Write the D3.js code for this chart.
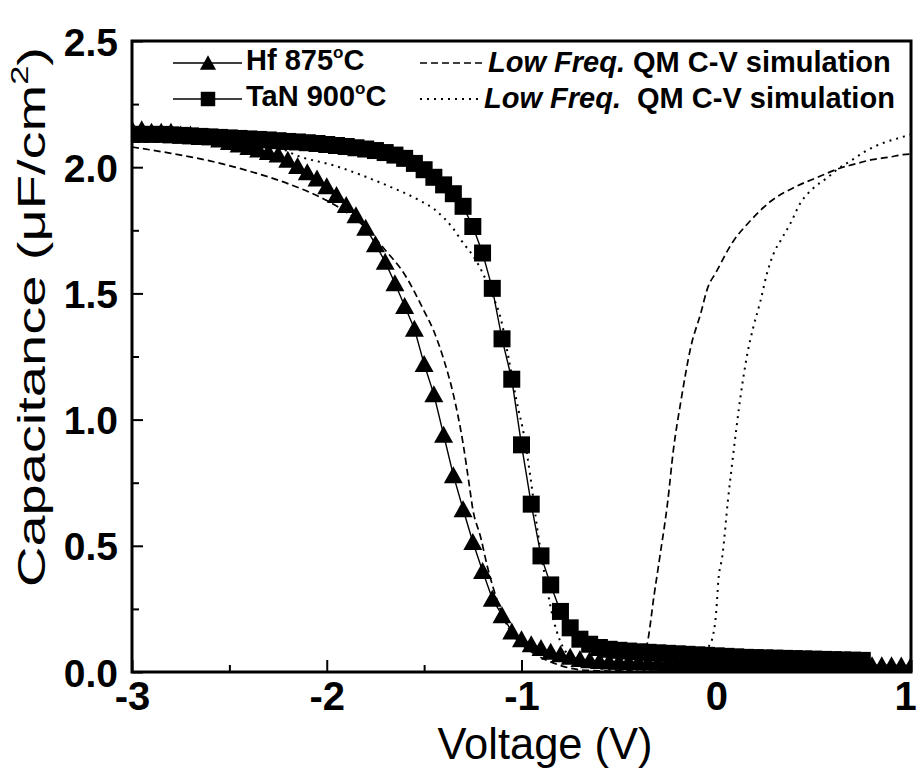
<!DOCTYPE html>
<html>
<head>
<meta charset="utf-8">
<script src="https://cdn.jsdelivr.net/npm/d3@7"></script>
<style>
  body { margin: 0; background: #fff; }
  svg { display: block; }
  text { font-family: "Liberation Sans", Arial, Helvetica, sans-serif; fill: #000; white-space: pre; }
</style>
</head>
<body>
<svg id="chart" width="916" height="782"></svg>
<script>
// Gate voltage of the measured sweeps (V)
const voltage = [
  -3.00, -2.95, -2.90, -2.85, -2.80, -2.75, -2.70, -2.65, -2.60, -2.55,
  -2.50, -2.45, -2.40, -2.35, -2.30, -2.25, -2.20, -2.15, -2.10, -2.05,
  -2.00, -1.95, -1.90, -1.85, -1.80, -1.75, -1.70, -1.65, -1.60, -1.55,
  -1.50, -1.45, -1.40, -1.35, -1.30, -1.25, -1.20, -1.15, -1.10, -1.05,
  -1.00, -0.95, -0.90, -0.85, -0.80, -0.75, -0.70, -0.65, -0.60, -0.55,
  -0.50, -0.45, -0.40, -0.35, -0.30, -0.25, -0.20, -0.15, -0.10, -0.05,
   0.00,  0.05,  0.10,  0.15,  0.20,  0.25,  0.30,  0.35,  0.40,  0.45,
   0.50,  0.55,  0.60,  0.65,  0.70,  0.75,  0.80,  0.85,  0.90,  0.95,
   1.00
];

// Measured capacitance, Hf gate annealed at 875 C (uF/cm^2)
const hfCap = [
  2.150, 2.150, 2.140, 2.140, 2.140, 2.130, 2.130, 2.120, 2.120, 2.110,
  2.100, 2.090, 2.080, 2.070, 2.060, 2.050, 2.030, 2.005, 1.980, 1.955,
  1.925, 1.890, 1.850, 1.810, 1.760, 1.695, 1.625, 1.540, 1.450, 1.360,
  1.220, 1.100, 0.940, 0.780, 0.645, 0.515, 0.400, 0.290, 0.225, 0.160,
  0.130, 0.110, 0.095, 0.080, 0.070, 0.060, 0.052, 0.047, 0.044, 0.042,
  0.041, 0.040, 0.039, 0.038, 0.037, 0.036, 0.036, 0.035, 0.035, 0.034,
  0.034, 0.033, 0.033, 0.032, 0.032, 0.031, 0.031, 0.030, 0.030, 0.030,
  0.029, 0.029, 0.029, 0.028, 0.028, 0.028, 0.027, 0.027, 0.027, 0.026,
  0.026
];

// Measured capacitance, TaN gate annealed at 900 C (sweep stops at 0.75 V)
const tanCap = [
  2.130, 2.130, 2.130, 2.130, 2.128, 2.126, 2.124, 2.122, 2.120, 2.118,
  2.116, 2.114, 2.112, 2.110, 2.108, 2.105, 2.102, 2.100, 2.097, 2.094,
  2.090, 2.086, 2.082, 2.077, 2.072, 2.066, 2.058, 2.048, 2.035, 2.015,
  1.990, 1.960, 1.930, 1.895, 1.845, 1.765, 1.660, 1.520, 1.320, 1.160,
  0.900, 0.665, 0.460, 0.345, 0.240, 0.175, 0.130, 0.110, 0.097, 0.090,
  0.086, 0.083, 0.080, 0.078, 0.076, 0.074, 0.072, 0.070, 0.068, 0.066,
  0.064, 0.062, 0.060, 0.058, 0.057, 0.056, 0.055, 0.054, 0.053, 0.052,
  0.051, 0.050, 0.049, 0.048, 0.047, 0.046
];

// Low-frequency quantum-mechanical C-V simulation matched to the Hf device
const hfSimV = [
  -3.00, -2.80, -2.60, -2.40, -2.20, -2.00, -1.90, -1.80, -1.70, -1.60,
  -1.50, -1.45, -1.40, -1.35, -1.30, -1.27, -1.25, -1.21, -1.175, -1.12,
  -1.07, -1.00, -0.94, -0.85, -0.75, -0.65, -0.55, -0.45, -0.40, -0.37,
  -0.35, -0.32, -0.29, -0.25, -0.22, -0.18, -0.13, -0.08, -0.045, 0.00,
   0.09, 0.16, 0.28, 0.40, 0.52, 0.65, 0.70, 0.80, 0.89, 0.96, 1.00
];
const hfSimC = [
  2.080, 2.055, 2.025, 1.985, 1.935, 1.868, 1.822, 1.760, 1.672, 1.575,
  1.430, 1.350, 1.240, 1.100, 0.905, 0.750, 0.645, 0.535, 0.417, 0.273,
  0.178, 0.110, 0.075, 0.040, 0.015, 0.006, 0.004, 0.006, 0.020, 0.060,
  0.130, 0.300, 0.455, 0.670, 0.880, 1.080, 1.290, 1.420, 1.520, 1.585,
  1.710, 1.775, 1.865, 1.920, 1.960, 2.000, 2.010, 2.030, 2.040, 2.050, 2.052
];

// Low-frequency quantum-mechanical C-V simulation matched to the TaN device
const tanSimV = [
  -3.00, -2.75, -2.48, -2.25, -2.15, -1.96, -1.71, -1.52, -1.45, -1.40,
  -1.354, -1.30, -1.25, -1.20, -1.16, -1.10, -1.067, -1.015, -0.995, -0.954,
  -0.918, -0.88, -0.84, -0.80, -0.75, -0.65, -0.50, -0.30, -0.15, -0.08,
  -0.04, -0.02, 0.00, 0.01, 0.032, 0.06, 0.09, 0.124, 0.16, 0.19,
   0.227, 0.26, 0.294, 0.33, 0.38, 0.43, 0.50, 0.57, 0.62, 0.70,
   0.77, 0.86, 0.94, 1.00
];
const tanSimC = [
  2.130, 2.120, 2.100, 2.078, 2.045, 2.006, 1.934, 1.867, 1.835, 1.800,
  1.760, 1.700, 1.650, 1.582, 1.511, 1.380, 1.246, 1.036, 0.969, 0.771,
  0.562, 0.380, 0.220, 0.120, 0.060, 0.020, 0.010, 0.008, 0.010, 0.040,
  0.099, 0.134, 0.240, 0.356, 0.463, 0.680, 0.880, 1.088, 1.262, 1.365,
  1.470, 1.578, 1.657, 1.709, 1.776, 1.855, 1.918, 1.958, 1.990, 2.030,
  2.065, 2.097, 2.116, 2.130
];

const xTicks = [-3, -2, -1, 0, 1];
const xMinorTicks = [-2.5, -1.5, -0.5, 0.5];
const yTicks = [0.0, 0.5, 1.0, 1.5, 2.0, 2.5];
const yMinorTicks = [0.25, 0.75, 1.25, 1.75, 2.25];

const legendMeasured = ["Hf 875", "TaN 900"];
const legendSimulated = ["Low Freq.", "Low Freq. "];
const legendSimSuffix = " QM C-V simulation";

const svg = d3.select("#chart");
const frame = { left: 132, right: 911, top: 41, bottom: 672 };

const x = d3.scaleLinear().domain([-3, 1]).range([frame.left, frame.right]);
const y = d3.scaleLinear().domain([0, 2.5]).range([frame.bottom, frame.top]);

svg.append("rect").attr("width", 916).attr("height", 782).attr("fill", "#fff");

svg.append("clipPath").attr("id", "plot-clip")
  .append("rect")
  .attr("x", frame.left).attr("y", frame.top)
  .attr("width", frame.right - frame.left).attr("height", frame.bottom - frame.top);

const plot = svg.append("g").attr("clip-path", "url(#plot-clip)");

const curve = d3.line()
  .x(d => x(d[0])).y(d => y(d[1]))
  .curve(d3.curveMonotoneX);
const straight = d3.line().x(d => x(d[0])).y(d => y(d[1]));

// simulations
plot.append("path")
  .datum(hfSimV.map((v, i) => [v, hfSimC[i]]))
  .attr("d", curve)
  .attr("fill", "none").attr("stroke", "#000")
  .attr("stroke-width", 1.7).attr("stroke-dasharray", "7,4");

plot.append("path")
  .datum(tanSimV.map((v, i) => [v, tanSimC[i]]))
  .attr("d", curve)
  .attr("fill", "none").attr("stroke", "#000")
  .attr("stroke-width", 2).attr("stroke-dasharray", "2,5");

// measured sweeps
const hfPts = voltage.map((v, i) => [v, hfCap[i]]);
const tanPts = tanCap.map((c, i) => [voltage[i], c]);

const triPath = "M0,-9 L9.5,8 L-9.5,8 Z";
const sqPath = "M-8.5,-8.5 H8.5 V8.5 H-8.5 Z";

plot.append("path").datum(hfPts).attr("d", straight)
  .attr("fill", "none").attr("stroke", "#000").attr("stroke-width", 1.4);
plot.append("g").selectAll("path").data(hfPts).join("path")
  .attr("transform", d => `translate(${x(d[0])},${y(d[1])})`)
  .attr("d", triPath).attr("fill", "#000");

plot.append("path").datum(tanPts).attr("d", straight)
  .attr("fill", "none").attr("stroke", "#000").attr("stroke-width", 1.4);
plot.append("g").selectAll("path").data(tanPts).join("path")
  .attr("transform", d => `translate(${x(d[0])},${y(d[1])})`)
  .attr("d", sqPath).attr("fill", "#000");

// axes with inward ticks
const xAxis = svg.append("g").attr("transform", `translate(0,${frame.bottom})`)
  .call(d3.axisBottom(x).tickValues(xTicks).tickSize(-12).tickFormat(d3.format("d")));
svg.append("g").attr("transform", `translate(0,${frame.bottom})`)
  .call(d3.axisBottom(x).tickValues(xMinorTicks).tickSize(-7).tickFormat(""));
const yAxis = svg.append("g").attr("transform", `translate(${frame.left},0)`)
  .call(d3.axisLeft(y).tickValues(yTicks).tickSize(-11).tickFormat(d3.format(".1f")));
svg.append("g").attr("transform", `translate(${frame.left},0)`)
  .call(d3.axisLeft(y).tickValues(yMinorTicks).tickSize(-7).tickFormat(""));

svg.selectAll(".domain").remove();
svg.selectAll(".tick line").attr("stroke", "#000").attr("stroke-width", 2);

xAxis.selectAll(".tick text")
  .attr("y", 38).attr("dy", null)
  .attr("x", d => (d === 1 ? -6 : 0))
  .attr("font-size", 40).attr("font-weight", "bold")
  .attr("font-family", '"Liberation Sans", Arial, sans-serif').attr("fill", "#000")
  .text(d => d3.format("d")(d).replace("\u2212", "-"));

yAxis.selectAll(".tick text")
  .attr("x", -14).attr("dy", "0.36em")
  .attr("font-size", 39).attr("font-weight", "bold")
  .attr("font-family", '"Liberation Sans", Arial, sans-serif').attr("fill", "#000");

// frame
svg.append("rect")
  .attr("x", frame.left).attr("y", frame.top)
  .attr("width", frame.right - frame.left).attr("height", frame.bottom - frame.top)
  .attr("fill", "none").attr("stroke", "#000").attr("stroke-width", 3);

// axis titles, stretched to their span
function fit(textSel, target) {
  const w = textSel.node().getComputedTextLength();
  textSel.attr("transform", `scale(${target / w},1)`);
}

const xt = svg.append("g").attr("transform", "translate(545,759)");
const xtText = xt.append("text").attr("text-anchor", "middle")
  .attr("font-size", 44).text("Voltage (V)");
fit(xtText, 215);

const yt = svg.append("g").attr("transform", "translate(45,587) rotate(-90)");
const ytText = yt.append("text").attr("font-size", 39);
ytText.append("tspan").text("Capacitance (\u03bcF/cm");
ytText.append("tspan").attr("font-size", 24).attr("dy", -17).text("2");
ytText.append("tspan").attr("dy", 17).text(")");
fit(ytText, 540);

// legend
const legend = svg.append("g");
const rows = [63, 99];
const baselines = [70, 106];
const markers = [triPath, sqPath];

rows.forEach((ry, i) => {
  legend.append("line")
    .attr("x1", 173).attr("x2", 242).attr("y1", ry).attr("y2", ry)
    .attr("stroke", "#000").attr("stroke-width", 1.5);
  legend.append("path").attr("d", markers[i])
    .attr("transform", `translate(208,${ry}) scale(0.85)`).attr("fill", "#000");
  const t = legend.append("text").attr("x", 246).attr("y", baselines[i])
    .attr("font-size", 29).attr("font-weight", "bold");
  t.append("tspan").text(legendMeasured[i]);
  t.append("tspan").attr("font-size", 17).attr("dy", -12).text("o");
  t.append("tspan").attr("dy", 12).text("C");

  legend.append("line")
    .attr("x1", 420).attr("x2", i === 0 ? 485 : 480).attr("y1", ry).attr("y2", ry)
    .attr("stroke", "#000")
    .attr("stroke-width", i === 0 ? 1.7 : 2)
    .attr("stroke-dasharray", i === 0 ? "7,4" : "2,5");
  const s = legend.append("text").attr("x", i === 0 ? 488 : 484).attr("y", baselines[i] + 2)
    .attr("font-size", 29).attr("font-weight", "bold");
  s.append("tspan").attr("font-style", "italic").text(legendSimulated[i]);
  s.append("tspan").text(legendSimSuffix);
});
</script>
</body>
</html>
